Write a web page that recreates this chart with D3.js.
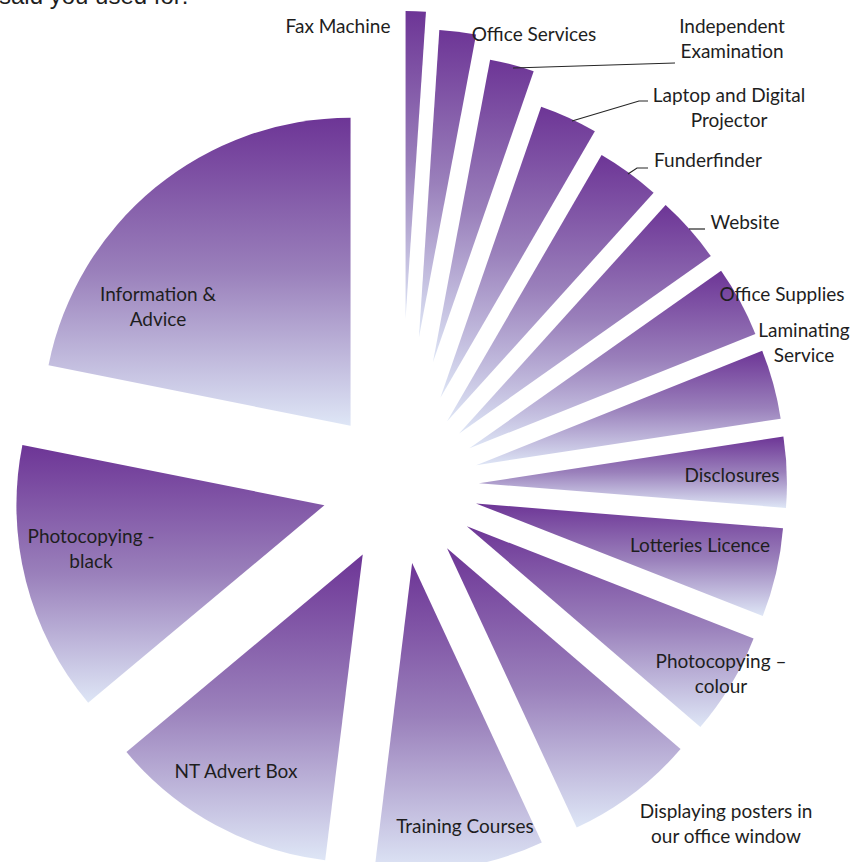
<!DOCTYPE html>
<html>
	<head>
		<meta charset="utf-8">
		<title>Services used</title>
		<style type="text/css">
			body {
			margin: 0;
			background: #fff;
			}

			.label {
			font: 19px Lato, "Noto Sans", sans-serif;
			fill: #1e1e1e;
			text-anchor: middle;
			}

			.caption {
			font: 24px "Liberation Sans", Arial, sans-serif;
			fill: #1e1e1e;
			}

			.leader {
			fill: none;
			stroke: #262626;
			stroke-width: 1.2;
			}
		</style>
		<script src="https://d3js.org/d3.v7.min.js"></script>
	</head>
	<body>
		<div id="chart"></div>

		<script>

			//data
			var services = ["Fax Machine", "Office Services", "Independent Examination",
				"Laptop and Digital Projector", "Funderfinder", "Website", "Office Supplies",
				"Laminating Service", "Disclosures", "Lotteries Licence", "Photocopying \u2013 colour",
				"Displaying posters in our office window", "Training Courses", "NT Advert Box",
				"Photocopying - black", "Information & Advice"];

			var counts = [3.8, 6.9, 8.4, 11, 12, 12.7, 13.4, 13.1, 13.3, 16.8, 19.3, 24.4, 31.9, 43.1, 51.2, 78.7];

			// label text as it is broken over lines
			var labelLines = [["Fax Machine"], ["Office Services"], ["Independent", "Examination"],
				["Laptop and Digital", "Projector"], ["Funderfinder"], ["Website"], ["Office Supplies"],
				["Laminating", "Service"], ["Disclosures"], ["Lotteries Licence"], ["Photocopying \u2013", "colour"],
				["Displaying posters in", "our office window"], ["Training Courses"], ["NT Advert Box"],
				["Photocopying -", "black"], ["Information &", "Advice"]];

			// layout: how far each slice is pulled out of the pie
			var explode = [167, 150, 128, 97, 80, 79, 79, 79, 79, 78, 78, 78, 78, 78, 78, 78];

			// layout: label centre x and first baseline y
			var labelPos = [[338, 33], [534, 41], [732, 33], [729, 102], [708, 167], [745, 229],
				[782, 301], [804, 337], [732, 482], [700, 552], [721, 668], [726, 818],
				[465, 833], [236, 778], [91, 543], [158, 301]];

			// layout: leader lines, null where the label sits on its slice
			var leaders = [null, null, [[513, 68], [675, 63]], [[572, 121], [639, 101], [648, 101]],
				[[628, 174], [637, 168], [648, 168]], [[689, 229], [705, 229]],
				null, null, null, null, null, null, null, null, null, null];

			var width = 855,
			height = 862,
			cx = 400,
			cy = 486,
			radius = 308;

			var svg = d3.select("#chart").append("svg")
			.attr("width", width)
			.attr("height", height);

			// purple to pale blue, top to bottom of each slice
			var grad = svg.append("defs").append("linearGradient")
			.attr("id", "sliceFill")
			.attr("x1", 0).attr("y1", 0)
			.attr("x2", 0).attr("y2", 1);
			grad.append("stop").attr("offset", "0%").attr("stop-color", "#6d3596");
			grad.append("stop").attr("offset", "50%").attr("stop-color", "#9a80bb");
			grad.append("stop").attr("offset", "100%").attr("stop-color", "#dee6f6");

			// cut-off text from the page above the chart
			svg.append("text")
			.attr("class", "caption")
			.attr("x", -1)
			.attr("y", 4)
			.text("said you used for:");

			var data = services.map(function(s, i) {
				return {name: s, value: counts[i], i: i};
			});

			var pie = d3.pie()
			.sort(null)
			.value(function(d) { return d.value; });

			var arc = d3.arc()
			.innerRadius(0)
			.outerRadius(radius);

			svg.selectAll(".slice")
			.data(pie(data))
			.enter().append("path")
			.attr("class", "slice")
			.attr("fill", "url(#sliceFill)")
			.attr("transform", function(d) {
				var mid = (d.startAngle + d.endAngle) / 2,
				e = explode[d.data.i];
				return "translate(" + (cx + e * Math.sin(mid)) + "," + (cy - e * Math.cos(mid)) + ")";
			})
			.attr("d", arc);

			var line = d3.line();

			svg.selectAll(".leader")
			.data(leaders.filter(function(l) { return l; }))
			.enter().append("path")
			.attr("class", "leader")
			.attr("d", line);

			var labels = svg.selectAll(".label")
			.data(data)
			.enter().append("text")
			.attr("class", "label")
			.attr("x", function(d) { return labelPos[d.i][0]; })
			.attr("y", function(d) { return labelPos[d.i][1]; });

			labels.selectAll("tspan")
			.data(function(d) { return labelLines[d.i].map(function(t) { return {t: t, i: d.i}; }); })
			.enter().append("tspan")
			.attr("x", function(d) { return labelPos[d.i][0]; })
			.attr("dy", function(d, j) { return j ? 25 : 0; })
			.text(function(d) { return d.t; });

		</script>
	</body>
</html>
